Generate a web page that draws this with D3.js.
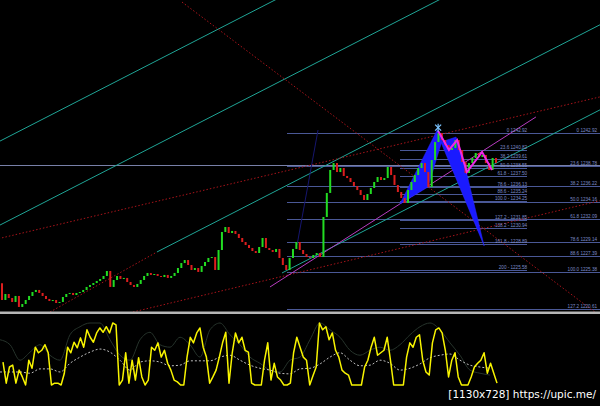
<!DOCTYPE html>
<meta charset="utf-8">
<style>
* { margin: 0; padding: 0; }
body { background: #000; }
svg { display: block; }
.fib { stroke: #4a5896; stroke-width: 1; shape-rendering: crispEdges; }
.fibtxt { fill: #7f8cc8; font: 4.6px "Liberation Sans", sans-serif; }
</style>
<body>
<script src="https://cdn.jsdelivr.net/npm/d3@7"></script>
<script>

// closing prices, one per bar (open = previous close)
var firstOpen = 1223.9;
var closes = [
  1221.78, 1222.54, 1222.03, 1221.53, 1222.29, 1220.90,
  1221.27, 1221.78, 1222.29, 1222.79, 1223.05, 1222.67,
  1222.29, 1221.91, 1221.65, 1221.78, 1221.40, 1221.53,
  1222.16, 1222.54, 1222.67, 1222.41, 1222.67, 1222.79,
  1223.05, 1223.43, 1223.68, 1223.93, 1224.19, 1224.44, 1224.82, 1225.45,
  1223.43, 1224.31, 1224.82, 1224.44, 1224.57,
  1224.06, 1223.68, 1223.43, 1223.81,
  1224.31, 1224.82, 1225.20, 1224.95, 1225.07, 1224.82,
  1224.69, 1224.95, 1224.57, 1224.82, 1225.20,
  1225.83, 1226.46, 1226.84, 1226.21,
  1225.58, 1225.83, 1225.33, 1226.08,
  1226.59, 1227.10, 1227.22,
  1225.58,
  1228.11, 1230.39, 1231.02,
  1230.26, 1230.52, 1230.14,
  1229.63, 1229.12, 1228.74, 1228.36, 1227.98, 1227.73,
  1228.49, 1229.63,
  1228.36, 1228.11, 1227.86, 1228.24,
  1227.10, 1226.21, 1225.58,
  1227.10, 1228.24, 1229.12,
  1228.11, 1227.60, 1227.22, 1227.10, 1227.48,
  1227.73, 1227.22,
  1232.29,
  1235.33, 1238.24,
  1239.12,
  1237.98, 1238.49, 1237.48,
  1237.22, 1236.72, 1236.21, 1235.70, 1235.07, 1234.44,
  1235.20, 1235.96, 1236.72, 1237.35,
  1236.97, 1237.22, 1238.62,
  1237.60, 1236.34, 1235.45, 1234.69, 1234.06,
  1235.70, 1236.72, 1237.60, 1238.49, 1239.12,
  1237.98, 1236.08,
  1239.50, 1241.78, 1242.92,
  1242.03, 1241.40, 1240.77, 1241.02,
  1242.03,
  1240.77, 1239.25, 1237.86,
  1239.12, 1239.76, 1240.39, 1239.88,
  1240.14,
  1239.12, 1238.24,
  1239.76, 1239.12
];

// fibonacci sets
var fibLeftLevels = ["0", "23.6", "38.2", "50.0", "61.8", "78.6", "88.6", "100.0", "127.2", "138.2", "161.8", "200"];
var fibLeftPrices = [1242.92, 1240.82, 1239.61, 1238.55, 1237.50, 1236.13, 1235.24, 1234.25, 1231.85, 1230.94, 1228.89, 1225.58];
var fibLeftSpan = [117.6, 155.2];

var fibRightLevels = ["0", "23.6", "38.2", "50.0", "61.8", "78.6", "88.6", "100.0", "127.2"];
var fibRightPrices = [1242.92, 1238.78, 1236.22, 1234.16, 1232.09, 1229.14, 1227.39, 1225.38, 1220.61];
var fibRightSpan = [84.2, 176.7];

var hLinePrice = 1238.87;

// trend lines as [bar, price] anchors
var tealLines = [
  [[-2, 1241.59], [82, 1260.05]],
  [[-1, 1231.18], [130, 1259.96]],
  [[45.8, 1227.86], [176.8, 1256.64]],
  [[82.75, 1225.20], [177, 1245.91]]
];
var redDotted = [
  [[53.2, 1259.50], [176, 1220.0]],
  [[-1, 1229.55], [177, 1247.52]],
  [[38.7, 1220.26], [177, 1234.38]],
  [[14.2, 1220.26], [45.8, 1227.86]]
];
var magentaLine = [[79.2, 1223.43], [157.8, 1244.95]];
var blueLine = [[87.2, 1228.74], [93.4, 1243.30]];

// harmonic pattern
var wedge1 = [[117.6, 1233.93], [128.6, 1243.30], [130.3, 1242.29], [125.9, 1236.08]];
var wedge2 = [[129.7, 1241.78], [134.2, 1242.41], [137.1, 1238.24], [142.5, 1228.62]];
var zigzag = [[128.9, 1243.17], [132.1, 1240.77], [134.5, 1242.03], [137.4, 1237.98], [141.9, 1240.52], [144.8, 1238.24]];
var peakMark = [128.9, 1243.6];

// oscillator
var osc = [37,3,29,32,3,24,13,0,40,27,61,52,56,65,52,0,3,3,0,19,61,52,69,60,76,61,89,77,69,84,
  92,85,94,84,100,97,0,8,52,3,40,8,44,13,0,8,61,56,68,45,56,35,24,8,5,0,0,45,77,68,
  84,92,61,45,3,13,24,45,68,85,3,52,84,68,77,56,53,3,0,0,0,40,68,8,35,13,8,0,0,3,
  52,77,61,45,
  40,0,15,29,100,89,94,73,84,56,45,24,19,16,0,0,0,0,29,40,61,77,48,52,56,77,40,0,0,0,
  0,45,68,61,77,81,40,21,16,68,89,92,84,56,13,40,52,13,0,0,0,13,29,35,40,52,19,35,19,3];
var oscSignal = [21,21,21,19,26,26,21,35,45,53,58,53,40,24,37,39,37,31,32,39,
  39,39,45,48,40,32,27,24,19,18,26,27,34,45,52,40,31,32,40,35,
  24,27,34,44,48,50,40,32,29,27];
var oscSlow = [73,65,40,53,65,48,40,81,94,100,100,73,48,40,73,85,65,61,77,65,
  45,89,100,81,65,45,35,24,21,40,45,73,100,89,77,56,48,56,61,56,
  65,81,94,100,89,68,48,24,19,16];

var W = 600, H = 406, mainBottom = 312;

var svg = d3.select("body").append("svg")
    .attr("width", W)
    .attr("height", H)
    .style("background", "#000");

var x = d3.scaleLinear().domain([0, closes.length - 1]).range([2, 496]);
var y = d3.scaleLinear().domain([1220.26, 1259.76]).range([mainBottom, 0]);

svg.append("clipPath").attr("id", "mainclip")
  .append("rect").attr("width", W).attr("height", mainBottom);

var main = svg.append("g").attr("clip-path", "url(#mainclip)");

var line = d3.line().x(function(d) { return x(d[0]); }).y(function(d) { return y(d[1]); });

// fib lines
function fibSet(levels, prices, span, labelX, withDash) {
  main.selectAll(null).data(prices).enter().append("line")
    .attr("class", "fib")
    .attr("x1", x(span[0])).attr("x2", x(span[1]))
    .attr("y1", function(d) { return Math.round(y(d)) + 0.5; })
    .attr("y2", function(d) { return Math.round(y(d)) + 0.5; });
  svg.selectAll(null).data(prices).enter().append("text")
    .attr("class", "fibtxt")
    .attr("x", labelX)
    .attr("y", function(d) { return Math.min(Math.round(y(d)) - 1, 309); })
    .attr("text-anchor", "end")
    .text(function(d, i) {
      var sep = (withDash && i > 3) ? " - " : " ";
      return levels[i] + sep + d.toFixed(2);
    });
}

main.append("line").attr("class", "fib")
  .attr("x1", 0).attr("x2", W)
  .attr("y1", Math.round(y(hLinePrice)) + 0.5).attr("y2", Math.round(y(hLinePrice)) + 0.5)
  .style("stroke", "#7880a8");

fibSet(fibRightLevels, fibRightPrices, fibRightSpan, 597, false);
fibSet(fibLeftLevels, fibLeftPrices, fibLeftSpan, x(fibLeftSpan[1]), true);

// trend lines
main.selectAll(".teal").data(tealLines).enter().append("path")
  .attr("d", line).attr("fill", "none")
  .attr("stroke", "#1fa596").attr("stroke-width", 1);

main.selectAll(".reddot").data(redDotted).enter().append("path")
  .attr("d", line).attr("fill", "none")
  .attr("stroke", "#a8141a").attr("stroke-width", 1)
  .attr("stroke-dasharray", "1.5,2");

main.append("path").attr("d", line(blueLine))
  .attr("fill", "none").attr("stroke", "#16166e").attr("stroke-width", 1);

main.append("path").attr("d", line(magentaLine))
  .attr("fill", "none").attr("stroke", "#b83cc0").attr("stroke-width", 1);

// pattern
[wedge1, wedge2].forEach(function(w) {
  main.append("path").attr("d", line(w) + "Z")
    .attr("fill", "#1a1aff").attr("stroke", "#2a2aff").attr("stroke-width", 0.5);
});

// candles
var bars = closes.map(function(c, i) {
  return { i: i, o: i ? closes[i - 1] : firstOpen, c: c };
});

main.selectAll(".bar").data(bars).enter().append("rect")
  .attr("x", function(d) { return x(d.i) - 1; })
  .attr("width", 2)
  .attr("y", function(d) { return y(Math.max(d.o, d.c)); })
  .attr("height", function(d) { return Math.max(1, Math.abs(y(d.o) - y(d.c))); })
  .attr("fill", function(d) { return d.c >= d.o ? "#22dc22" : "#dc1e1e"; });

main.append("path").attr("d", line(zigzag))
  .attr("fill", "none").attr("stroke", "#f028e8").attr("stroke-width", 2);

// peak marker
var px = x(peakMark[0]), py = y(peakMark[1]);
var mark = main.append("g").attr("stroke", "#7cc4ff").attr("stroke-width", 1.2);
[[-3, -3, 3, 3], [-3, 3, 3, -3], [0, -4, 0, 4]].forEach(function(s) {
  mark.append("line").attr("x1", px + s[0]).attr("y1", py + s[1])
    .attr("x2", px + s[2]).attr("y2", py + s[3]);
});

// separator
svg.append("rect").attr("x", 0).attr("y", 311.5).attr("width", W).attr("height", 2.5)
  .attr("fill", "#b6b6b6");

// oscillator pane
var oy = d3.scaleLinear().domain([0, 100]).range([385, 323]);
var ox = d3.scaleLinear().domain([0, osc.length - 1]).range([3, 497]);
var sx = d3.scaleLinear().domain([0, oscSignal.length - 1]).range([0, 490]);

svg.append("path")
  .attr("d", d3.line().x(function(d, i) { return sx(i); }).y(function(d) { return oy(d); }).curve(d3.curveMonotoneX)(oscSlow))
  .attr("fill", "none").attr("stroke", "#26332b").attr("stroke-width", 1);

svg.append("path")
  .attr("d", d3.line().x(function(d, i) { return sx(i); }).y(function(d) { return oy(d); }).curve(d3.curveMonotoneX)(oscSignal))
  .attr("fill", "none").attr("stroke", "#bdbdbd").attr("stroke-width", 1)
  .attr("stroke-dasharray", "2,2");

svg.append("path")
  .attr("d", d3.line().x(function(d, i) { return ox(i); }).y(function(d) { return oy(d); })(osc))
  .attr("fill", "none").attr("stroke", "#f8f400").attr("stroke-width", 1.5)
  .attr("stroke-linejoin", "round");

// watermark
svg.append("text")
  .attr("x", 596).attr("y", 398)
  .attr("text-anchor", "end")
  .attr("fill", "#fff")
  .style("font", "10.5px 'DejaVu Sans', sans-serif")
  .text("[1130x728] https://upic.me/");

</script>
